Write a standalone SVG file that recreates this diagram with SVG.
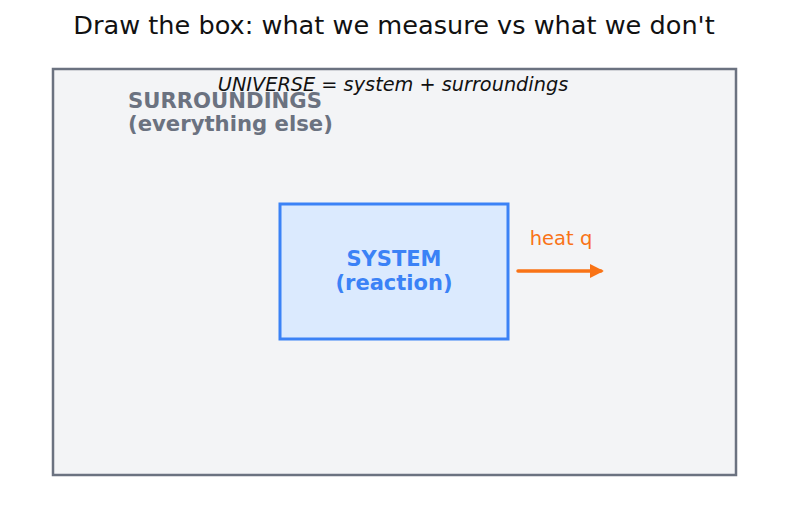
<svg xmlns="http://www.w3.org/2000/svg" width="787" height="512" viewBox="0 0 787 512">
<style>
text{font-family:"DejaVu Sans","Liberation Sans",sans-serif}
.title{font-size:25.6px;fill:#111111;text-anchor:middle}
.uni{font-size:19.3px;font-style:italic;fill:#111111;text-anchor:middle}
.sur{font-size:21.2px;font-weight:bold;fill:#6b7280}
.sys{font-size:21px;font-weight:bold;fill:#3b82f6;text-anchor:middle}
.heat{font-size:19.5px;fill:#f97316;text-anchor:middle}
</style>
<defs>
<marker id="ah" viewBox="0 0 10 10" refX="8" refY="5" markerWidth="4" markerHeight="4" orient="auto" markerUnits="strokeWidth">
<path d="M0,0 L10,5 L0,10 z" fill="#f97316"/>
</marker>
</defs>
<rect width="787" height="512" fill="#ffffff"/>
<text class="title" x="394" y="34">Draw the box: what we measure vs what we don't</text>
<g id="surroundings">
<rect x="53" y="69" width="683" height="406" fill="#f3f4f6" stroke="#6b7280" stroke-width="2.5"/>
<text class="uni" x="393" y="91">UNIVERSE = system + surroundings</text>
<text class="sur" x="128" y="108">SURROUNDINGS</text>
<text class="sur" x="128" y="131">(everything else)</text>
</g>
<g id="system">
<rect x="280" y="204" width="228" height="135" fill="#dbeafe" stroke="#3b82f6" stroke-width="3"/>
<text class="sys" x="394" y="266">SYSTEM</text>
<text class="sys" x="394" y="290">(reaction)</text>
</g>
<g id="connectors">
<line x1="518" y1="271" x2="601" y2="271" stroke="#f97316" stroke-width="3.5" stroke-linecap="round" marker-end="url(#ah)"/>
<text class="heat" x="561" y="245">heat q</text>
</g>
</svg>
